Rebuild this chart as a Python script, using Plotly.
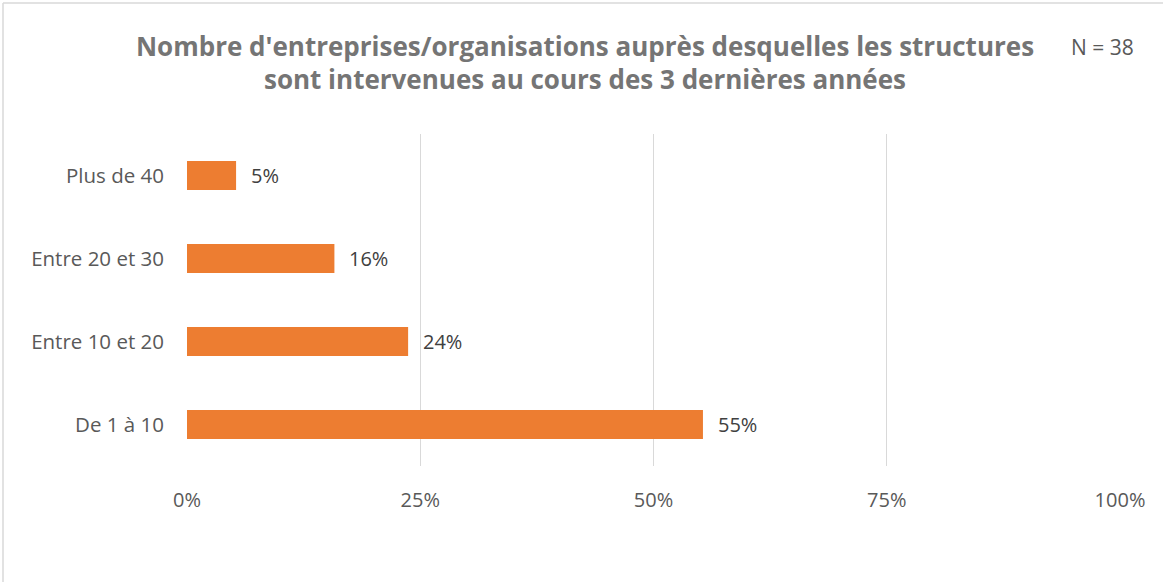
import plotly.graph_objects as go

categories = ["De 1 à 10", "Entre 10 et 20", "Entre 20 et 30", "Plus de 40"]
values = [0.553, 0.237, 0.158, 0.0526]
value_labels = ["55%", "24%", "16%", "5%"]
tick_vals = [0, 0.25, 0.5, 0.75, 1.0]
tick_text = ["0%", "25%", "50%", "75%", "100%"]

FONT = "Open Sans, Lato, sans-serif"

title_text = ("<b>Nombre d'entreprises/organisations auprès desquelles les structures<br>"
              "sont intervenues au cours des 3 dernières années</b>")

fig = go.Figure(go.Bar(
    y=categories, x=values, orientation="h",
    marker=dict(color="#ED7D31", line=dict(width=0)),
    hoverinfo="skip",
))

annotations = [dict(
    x=v, y=c, text=t, xref="x", yref="y",
    xanchor="left", yanchor="middle", xshift=13, showarrow=False,
    font=dict(family=FONT, size=20, color="#404040"),
) for v, c, t in zip(values, categories, value_labels)]

annotations.append(dict(
    text="N = 38", xref="paper", yref="paper",
    x=(1102 - 187) / 933, y=(466 - 47) / 332,
    xanchor="center", yanchor="middle", showarrow=False,
    font=dict(family=FONT, size=21, color="#595959"),
))

fig.update_layout(
    width=1163, height=582,
    margin=dict(l=187, r=43, t=134, b=116, autoexpand=False),
    paper_bgcolor="white", plot_bgcolor="white",
    bargap=0.65,
    showlegend=False,
    font=dict(family=FONT, color="#595959"),
    title=dict(
        text=title_text, x=585 / 1163, xanchor="center", xref="container",
        y=1 - 55.5 / 582, yanchor="middle", yref="container",
        font=dict(family=FONT, size=26, color="#757575"),
    ),
    xaxis=dict(
        range=[0, 1], tickvals=tick_vals, ticktext=tick_text,
        showgrid=True, gridcolor="#D9D9D9", gridwidth=1.3,
        zeroline=False, showline=False, ticks="",
        tickfont=dict(family=FONT, size=20, color="#595959"),
        ticklabelstandoff=20,
        fixedrange=True,
    ),
    yaxis=dict(
        showgrid=False, zeroline=False, showline=False, ticks="",
        tickfont=dict(family=FONT, size=20.5, color="#595959"),
        ticklabelstandoff=22,
        fixedrange=True,
    ),
    annotations=annotations,
    shapes=[
        dict(type="line", xref="paper", yref="paper",
             x0=(3 - 187) / 933, x1=(1163 - 187) / 933,
             y0=(466 - 3) / 332, y1=(466 - 3) / 332,
             line=dict(color="#D9D9D9", width=1.5)),
        dict(type="line", xref="paper", yref="paper",
             x0=(3 - 187) / 933, x1=(3 - 187) / 933,
             y0=(466 - 3) / 332, y1=(466 - 582) / 332,
             line=dict(color="#D9D9D9", width=1.5)),
    ],
)

fig.write_html(
    "out.html",
    config={"displayModeBar": False, "staticPlot": True},
    post_script="document.body.style.margin='0px';document.body.style.padding='0px';",
)
